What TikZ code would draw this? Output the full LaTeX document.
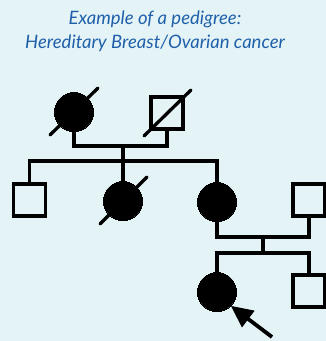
\documentclass[tikz,border=0pt]{standalone}
\usepackage{fontspec}
\setmainfont{Lato}
\usetikzlibrary{arrows.meta}
\definecolor{bg}{HTML}{E4F4F6}
\definecolor{titleblue}{HTML}{1F5FAA}
\begin{document}
\begin{tikzpicture}[x=1pt,y=-1pt,
  line width=3.3pt,
  male/.style={draw,rectangle,minimum size=32pt,inner sep=0pt,line width=3.3pt,fill=none},
  female/.style={draw,circle,minimum size=39pt,inner sep=0pt,fill=black,line width=0pt},
  link/.style={line width=3.3pt,black},
  dead/.style={line width=3.3pt,line cap=round}]
\fill[bg] (0,0) rectangle (326,341);
\useasboundingbox (0,0) rectangle (326,341);
\node[text=titleblue,font=\itshape\fontsize{18.5}{24}\selectfont,align=center] (title) at (155,31) {Example of a pedigree:\\Hereditary Breast/Ovarian cancer};
% generation I
\node[female] (gm) at (74,112) {};
\node[male] (gf) at (167,113) {};
\draw[dead] (50,135) -- (98,88);
\draw[dead] (144,136) -- (191,90);
\coordinate (m1) at (123,146);
\draw[link] (gm.south) |- (m1) -| (gf.south);
\coordinate (s1) at (123,161);
\draw[link] (m1) -- (s1);
% generation II
\node[male] (son) at (29.5,200) {};
\node[female] (d1) at (123,201) {};
\node[female] (d2) at (217,202) {};
\node[male] (hus) at (309,200) {};
\draw[dead] (100,224) -- (147,177);
\draw[link] (son.north) |- (s1) -| (d2.north);
\draw[link] (s1) -- (d1.north);
\coordinate (m2) at (263,237);
\draw[link] (d2.south) |- (m2) -| (hus.south);
\coordinate (s2) at (263,253);
\draw[link] (m2) -- (s2);
% generation III
\node[female] (prob) at (217,292) {};
\node[male] (bro) at (309,291) {};
\draw[link] (prob.north) |- (s2) -| (bro.north);
\coordinate (arrowstart) at (272,337);
\draw[line width=3.8pt,-{Triangle[length=22pt,width=20pt]}] (arrowstart) -- (prob.-45);
\end{tikzpicture}
\end{document}
